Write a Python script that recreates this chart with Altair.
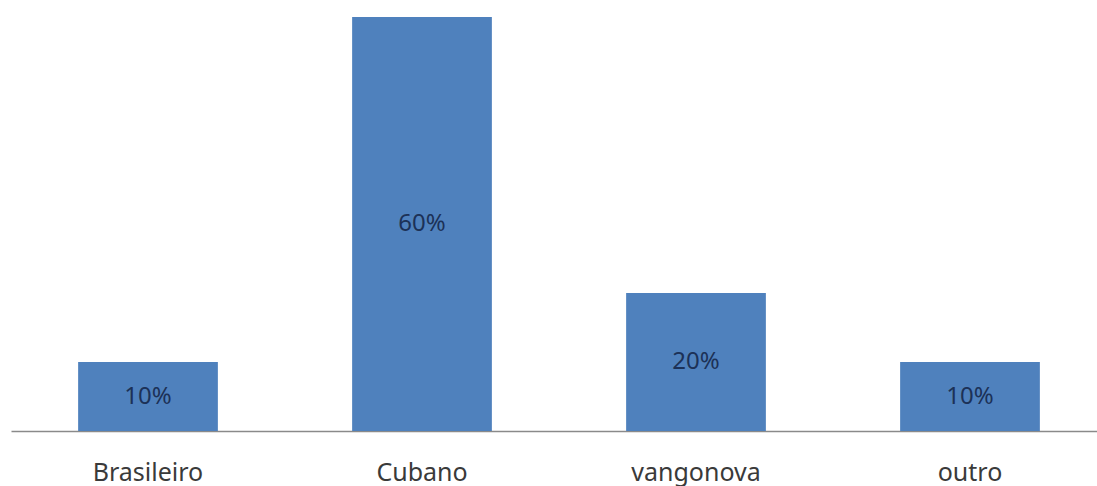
import altair as alt
import pandas as pd

# Share of responses per category (percent)
categories = ["Brasileiro", "Cubano", "vangonova", "outro"]
shares = [10, 60, 20, 10]
labels = ["10%", "60%", "20%", "10%"]

df = pd.DataFrame({"categoria": categories, "pct": shares, "rotulo": labels})
df["meio"] = df["pct"] / 2

font = "Noto Sans"

x = alt.X(
    "categoria:N",
    sort=categories,
    scale=alt.Scale(range=[0, 1096], paddingInner=0.49, paddingOuter=0.245),
    axis=alt.Axis(
        title=None,
        ticks=False,
        tickSize=0,
        labelAngle=0,
        labelPadding=49,
        labelBaseline="alphabetic",
        labelFontSize=25,
        labelFont=font,
        labelColor="#3a3a3a",
        domainColor="#8a8a8a",
        domainWidth=1.4,
    ),
)

bars = alt.Chart(df).mark_bar(color="#4f81bd").encode(
    x=x,
    y=alt.Y("pct:Q", scale=alt.Scale(domain=[0, 60], nice=False), axis=None),
)

text = alt.Chart(df).mark_text(
    font=font, fontSize=24, color="#1c3157", baseline="middle"
).encode(
    x=alt.X("categoria:N", sort=categories),
    y=alt.Y("meio:Q"),
    text="rotulo:N",
)

chart = (
    alt.layer(bars, text)
    .properties(
        width=1086,
        height=414,
        padding={"left": 11, "top": 17, "right": 0, "bottom": 55},
        autosize=alt.AutoSizeParams(type="none"),
        background="white",
    )
    .configure_view(stroke=None)
)

chart.save("out.html", embed_options={"renderer": "svg", "actions": False})
